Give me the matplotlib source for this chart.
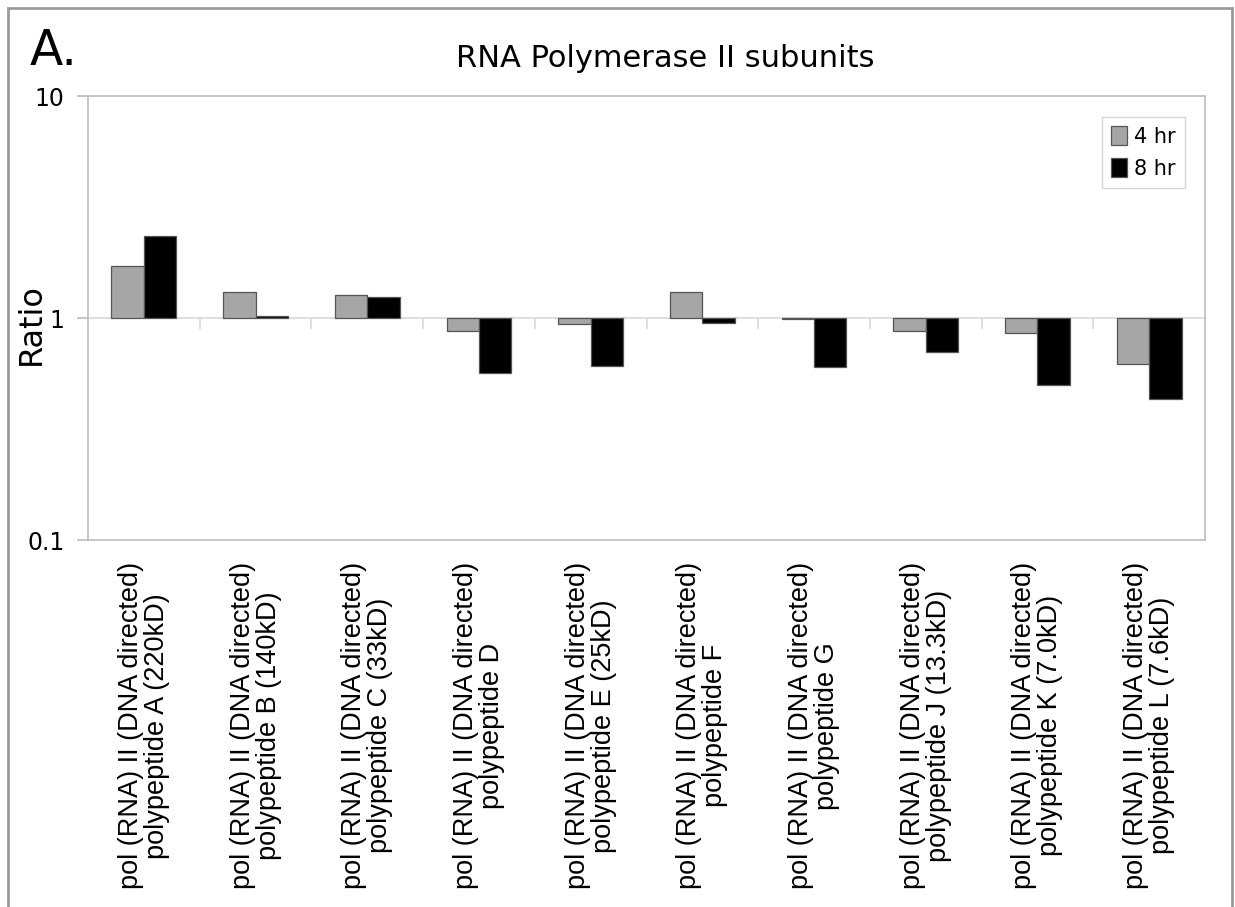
import matplotlib
matplotlib.use("Agg")
import matplotlib.pyplot as plt
from matplotlib.patches import Rectangle
import numpy as np

# Subunit names (two-line axis labels)
categories = [
    "pol (RNA) II (DNA directed)\npolypeptide A (220kD)",
    "pol (RNA) II (DNA directed)\npolypeptide B (140kD)",
    "pol (RNA) II (DNA directed)\npolypeptide C (33kD)",
    "pol (RNA) II (DNA directed)\npolypeptide D",
    "pol (RNA) II (DNA directed)\npolypeptide E (25kD)",
    "pol (RNA) II (DNA directed)\npolypeptide F",
    "pol (RNA) II (DNA directed)\npolypeptide G",
    "pol (RNA) II (DNA directed)\npolypeptide J (13.3kD)",
    "pol (RNA) II (DNA directed)\npolypeptide K (7.0kD)",
    "pol (RNA) II (DNA directed)\npolypeptide L (7.6kD)",
]

# Expression ratios at each time point
ratio_4hr = [1.71, 1.31, 1.265, 0.877, 0.94, 1.31, 0.99, 0.877, 0.853, 0.62]
ratio_8hr = [2.35, 1.02, 1.24, 0.563, 0.608, 0.946, 0.604, 0.705, 0.499, 0.43]

series_labels = ["4 hr", "8 hr"]
y_ticks = [0.1, 1, 10]
y_ticklabels = ["0.1", "1", "10"]

W, H = 1235, 907
fig = plt.figure(figsize=(W / 100, H / 100), dpi=100)
fig.patch.set_facecolor("white")

ax = fig.add_axes([88 / W, 1 - 540 / H, (1205 - 88) / W, (540 - 96) / H])
ax.set_yscale("log")
ax.set_ylim(0.1, 10)
n = len(categories)
ax.set_xlim(0, n)

# Category axis crossing at ratio = 1 (halfway on the log scale)
sec = ax.secondary_xaxis(0.5)
sec.set_xticks(np.arange(1, n))
sec.set_xticklabels([""] * (n - 1))
sec.tick_params(axis="x", which="both", direction="in", length=8,
                width=1.2, color="#d9d9d9")
for s in sec.spines.values():
    s.set_color("#d9d9d9")
    s.set_linewidth(1.2)
sec.set_zorder(1)

x = np.arange(n) + 0.5
bw = 0.29
base = 1.0
h4 = np.array(ratio_4hr) - base
h8 = np.array(ratio_8hr) - base
ax.bar(x - bw / 2, h4, width=bw, bottom=base, color="#a6a6a6",
       edgecolor="#555555", linewidth=0.9, label=series_labels[0], zorder=3)
ax.bar(x + bw / 2, h8, width=bw, bottom=base, color="#000000",
       edgecolor="#555555", linewidth=0.9, label=series_labels[1], zorder=3)
ax.set_zorder(2)
ax.patch.set_visible(False)

# Frame of the plot area
for s in ax.spines.values():
    s.set_color("#bdbdbd")
    s.set_linewidth(1.2)

# Category labels below the plot area
ax.set_xticks(x)
ax.set_xticklabels(categories, rotation=90, ha="center", va="top",
                   family="Liberation Sans", fontsize=19.5,
                   linespacing=1.0)
ax.tick_params(axis="x", length=0, pad=16)

# Y axis
ax.set_yticks(y_ticks)
ax.set_yticklabels(y_ticklabels, family="DejaVu Sans", fontsize=17)
ax.yaxis.set_minor_locator(matplotlib.ticker.NullLocator())
ax.tick_params(axis="y", direction="out", length=8, width=1.2,
               color="#bdbdbd", pad=9)

leg = ax.legend(loc="upper right", bbox_to_anchor=((1185 - 88) / 1117,
                (540 - 117) / 444), frameon=True, fancybox=False,
                prop={"family": "DejaVu Sans", "size": 15},
                handlelength=0.75, handleheight=1.0, handletextpad=0.35,
                borderpad=0.45, labelspacing=0.55, borderaxespad=0)
leg.get_frame().set_edgecolor("#cccccc")
leg.get_frame().set_linewidth(1.0)

# Texts
fig.text(665 / W, 1 - 67 / H, "RNA Polymerase II subunits", ha="center",
         va="baseline", family="DejaVu Sans", fontsize=22)
fig.text(30 / W, 1 - 65 / H, "A.", ha="left", va="baseline",
         family="DejaVu Sans", fontsize=35)
fig.text(31 / W, 1 - 324 / H, "Ratio", rotation=90, ha="center",
         va="center", family="DejaVu Sans", fontsize=23)

# Outer border of the panel
fig.patches.append(Rectangle((8 / W, -0.05), (1232 - 8) / W, 1.05 - 8 / H,
                             transform=fig.transFigure, fill=False,
                             edgecolor="#9a9a9a", linewidth=2.0))

fig.savefig("out.png", dpi=100, facecolor="white")
